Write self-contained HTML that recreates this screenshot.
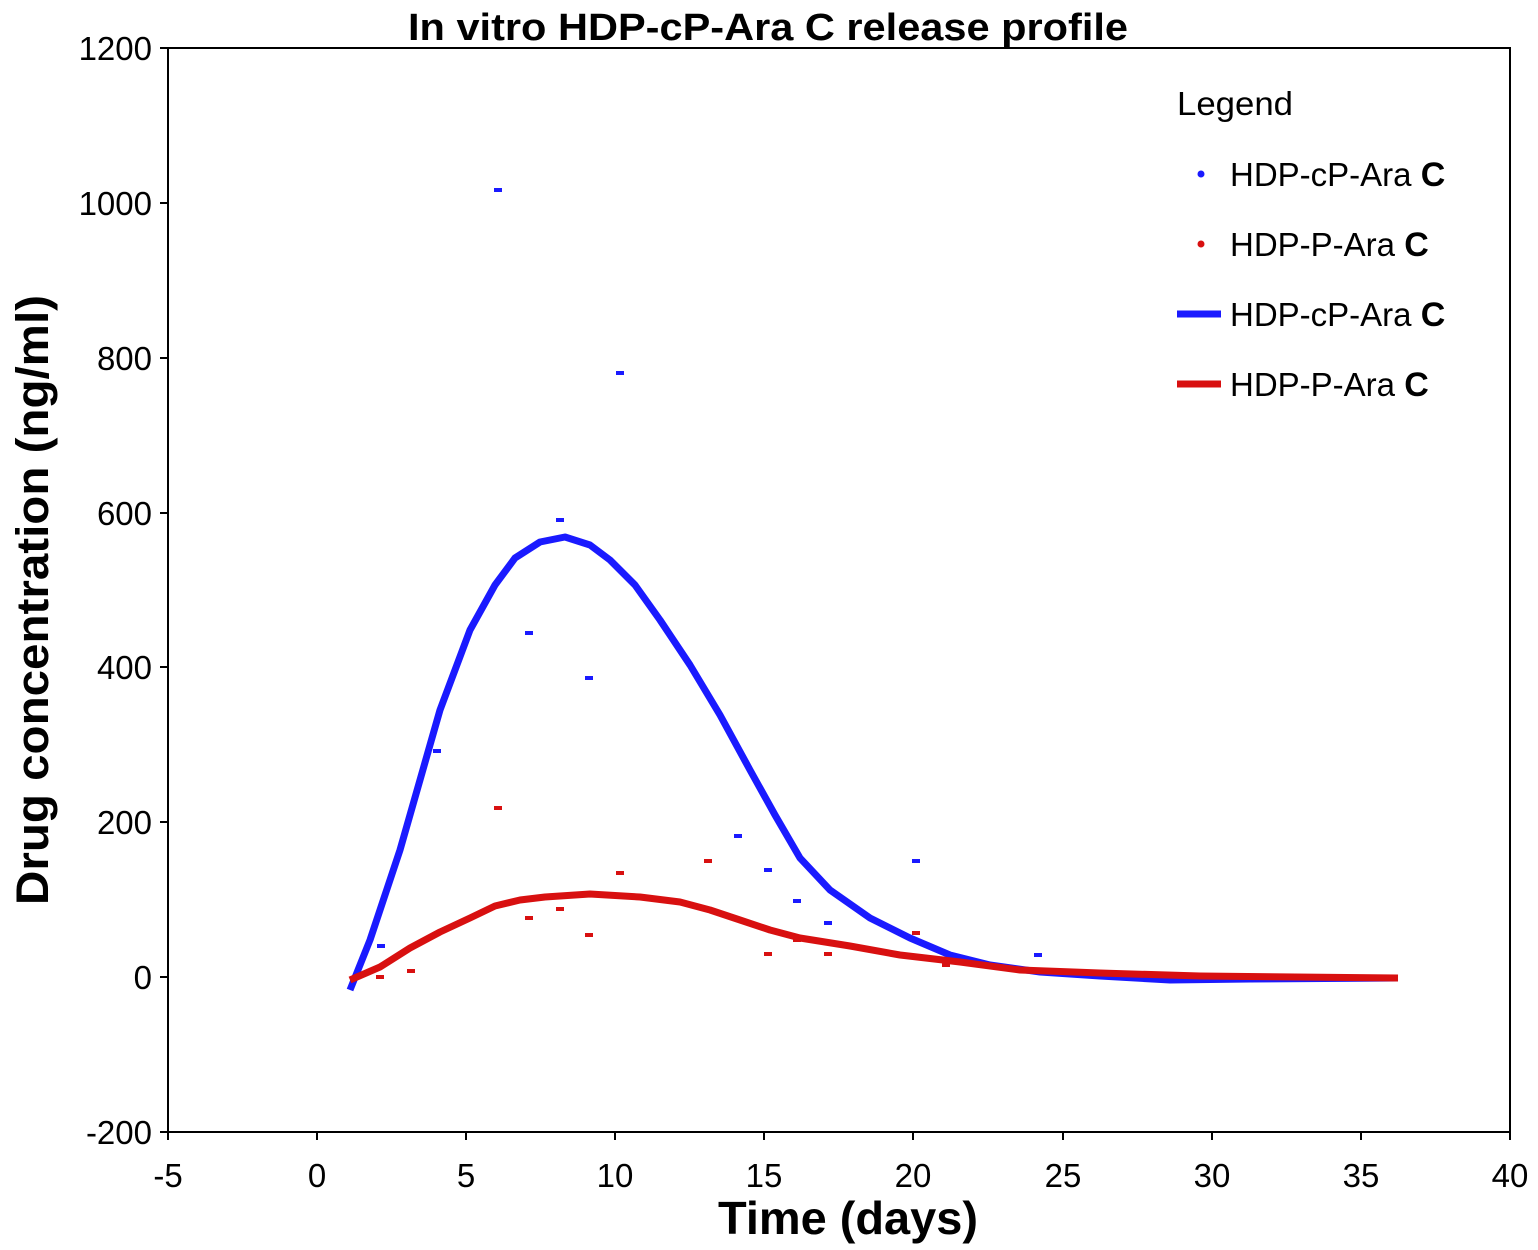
<!DOCTYPE html>
<html><head><style>body{margin:0;background:#fff}svg{display:block}</style></head><body>
<svg width="1538" height="1250" xmlns="http://www.w3.org/2000/svg" font-family="Liberation Sans, sans-serif">
<rect width="1538" height="1250" fill="#fff"/>
<text x="768" y="40" font-size="38" font-weight="bold" text-anchor="middle" textLength="720" lengthAdjust="spacingAndGlyphs">In vitro HDP-cP-Ara C release profile</text>
<rect x="168" y="48" width="1342" height="1084" fill="none" stroke="#000" stroke-width="2"/>
<g stroke="#000" stroke-width="2">
<line x1="160" y1="48" x2="168" y2="48"/><line x1="160" y1="203" x2="168" y2="203"/><line x1="160" y1="358" x2="168" y2="358"/><line x1="160" y1="513" x2="168" y2="513"/><line x1="160" y1="667" x2="168" y2="667"/><line x1="160" y1="822" x2="168" y2="822"/><line x1="160" y1="977" x2="168" y2="977"/><line x1="160" y1="1132" x2="168" y2="1132"/>
<line x1="168" y1="1132" x2="168" y2="1140"/><line x1="317" y1="1132" x2="317" y2="1140"/><line x1="466" y1="1132" x2="466" y2="1140"/><line x1="615" y1="1132" x2="615" y2="1140"/><line x1="764" y1="1132" x2="764" y2="1140"/><line x1="913" y1="1132" x2="913" y2="1140"/><line x1="1063" y1="1132" x2="1063" y2="1140"/><line x1="1212" y1="1132" x2="1212" y2="1140"/><line x1="1361" y1="1132" x2="1361" y2="1140"/><line x1="1510" y1="1132" x2="1510" y2="1140"/>
</g>
<g font-size="33" text-anchor="end">
<text x="152" y="60">1200</text><text x="152" y="215">1000</text><text x="152" y="370">800</text><text x="152" y="525">600</text><text x="152" y="679">400</text><text x="152" y="834">200</text><text x="152" y="989">0</text><text x="152" y="1144">-200</text>
</g>
<g font-size="33" text-anchor="middle">
<text x="168" y="1187">-5</text><text x="317" y="1187">0</text><text x="466" y="1187">5</text><text x="615" y="1187">10</text><text x="764" y="1187">15</text><text x="913" y="1187">20</text><text x="1063" y="1187">25</text><text x="1212" y="1187">30</text><text x="1361" y="1187">35</text><text x="1510" y="1187">40</text>
</g>
<text x="848" y="1234" font-size="46" font-weight="bold" text-anchor="middle" textLength="260" lengthAdjust="spacingAndGlyphs">Time (days)</text>
<text transform="translate(48,600) rotate(-90)" font-size="45" font-weight="bold" text-anchor="middle" textLength="610" lengthAdjust="spacingAndGlyphs">Drug concentration (ng/ml)</text>
<polyline fill="none" stroke="#1a1aff" stroke-width="7" stroke-linejoin="round" points="350,990 370,940 400,850 440,710 470,630 495,585 515,558 540,542 565,537 590,545 610,560 635,585 660,620 690,665 720,715 750,770 775,815 800,858 830,890 870,918 910,938 950,955 990,965 1040,972 1100,976 1170,980 1250,979 1398,978"/>
<polyline fill="none" stroke="#d81010" stroke-width="7" stroke-linejoin="round" points="350,980 380,967 410,948 440,932 470,918 495,906 520,900 545,897 590,894 640,897 680,902 710,910 740,920 770,930 800,938 850,946 900,955 960,962 1020,970 1100,973 1200,976 1398,978"/>
<g fill="#1a1aff">
<rect x="494" y="188" width="8" height="4"/><rect x="616" y="371" width="8" height="4"/><rect x="556" y="518" width="8" height="4"/><rect x="525" y="631" width="8" height="4"/><rect x="585" y="676" width="8" height="4"/><rect x="433" y="749" width="8" height="4"/><rect x="377" y="944" width="8" height="4"/><rect x="734" y="834" width="8" height="4"/><rect x="764" y="868" width="8" height="4"/><rect x="793" y="899" width="8" height="4"/><rect x="824" y="921" width="8" height="4"/><rect x="912" y="859" width="8" height="4"/><rect x="1034" y="953" width="8" height="4"/>
</g>
<g fill="#d81010">
<rect x="494" y="806" width="8" height="4"/><rect x="616" y="871" width="8" height="4"/><rect x="704" y="859" width="8" height="4"/><rect x="525" y="916" width="8" height="4"/><rect x="556" y="907" width="8" height="4"/><rect x="585" y="933" width="8" height="4"/><rect x="407" y="969" width="8" height="4"/><rect x="376" y="975" width="8" height="4"/><rect x="764" y="952" width="8" height="4"/><rect x="793" y="938" width="8" height="4"/><rect x="824" y="952" width="8" height="4"/><rect x="912" y="931" width="8" height="4"/><rect x="942" y="963" width="8" height="4"/><rect x="1241" y="973" width="8" height="4"/>
</g>
<text x="1177" y="115" font-size="33" textLength="116" lengthAdjust="spacingAndGlyphs">Legend</text>
<g font-size="33">
<circle cx="1201" cy="174" r="3.5" fill="#1a1aff"/><text x="1230" y="186">HDP-cP-Ara <tspan font-weight="bold" font-size="34">C</tspan></text>
<circle cx="1201" cy="244" r="3.5" fill="#d81010"/><text x="1230" y="256">HDP-P-Ara <tspan font-weight="bold" font-size="34">C</tspan></text>
<line x1="1177" y1="314" x2="1221" y2="314" stroke="#1a1aff" stroke-width="7"/><text x="1230" y="326">HDP-cP-Ara <tspan font-weight="bold" font-size="34">C</tspan></text>
<line x1="1177" y1="384" x2="1221" y2="384" stroke="#d81010" stroke-width="7"/><text x="1230" y="396">HDP-P-Ara <tspan font-weight="bold" font-size="34">C</tspan></text>
</g>
</svg>
</body></html>
